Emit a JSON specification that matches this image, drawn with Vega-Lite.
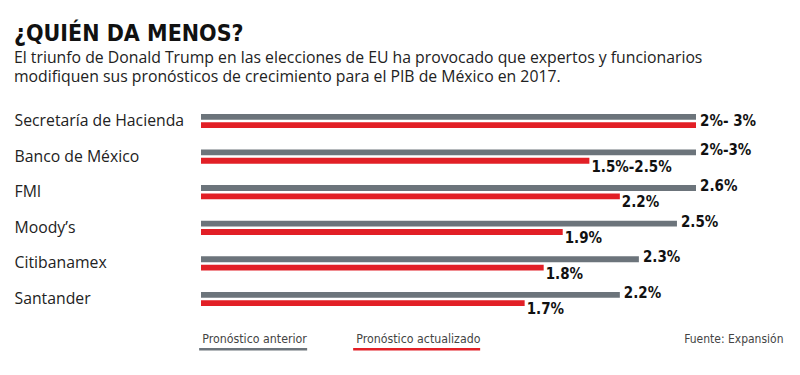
{
  "$schema": "https://vega.github.io/schema/vega-lite/v6.json",
  "autosize": "none",
  "width": 495,
  "height": 213.6,
  "padding": {"left": 201, "top": 103.2, "right": 104, "bottom": 58},
  "background": "white",
  "title": {
    "text": "¿QUIÉN DA MENOS?",
    "subtitle": ["El triunfo de Donald Trump en las elecciones de EU ha provocado que expertos y funcionarios", "modifiquen sus pronósticos de crecimiento para el PIB de México en 2017."],
    "anchor": "start",
    "frame": "group",
    "dx": -187,
    "offset": 18,
    "font": "DejaVu Sans Condensed",
    "fontSize": 23,
    "fontWeight": "bold",
    "color": "#111111",
    "subtitleFont": "Open Sans",
    "subtitleFontSize": 15.8,
    "subtitleColor": "#222222",
    "subtitleLineHeight": 19,
    "subtitlePadding": 5
  },
  "data": {
    "values": [
      {"entidad": "Secretaría de Hacienda", "serie": "Pronóstico anterior", "valor": 2.6, "etiqueta": "2%- 3%"},
      {"entidad": "Secretaría de Hacienda", "serie": "Pronóstico actualizado", "valor": 2.6, "etiqueta": "2%- 3%"},
      {"entidad": "Banco de México", "serie": "Pronóstico anterior", "valor": 2.6, "etiqueta": "2%-3%"},
      {"entidad": "Banco de México", "serie": "Pronóstico actualizado", "valor": 2.04, "etiqueta": "1.5%-2.5%"},
      {"entidad": "FMI", "serie": "Pronóstico anterior", "valor": 2.6, "etiqueta": "2.6%"},
      {"entidad": "FMI", "serie": "Pronóstico actualizado", "valor": 2.2, "etiqueta": "2.2%"},
      {"entidad": "Moody’s", "serie": "Pronóstico anterior", "valor": 2.5, "etiqueta": "2.5%"},
      {"entidad": "Moody’s", "serie": "Pronóstico actualizado", "valor": 1.9, "etiqueta": "1.9%"},
      {"entidad": "Citibanamex", "serie": "Pronóstico anterior", "valor": 2.3, "etiqueta": "2.3%"},
      {"entidad": "Citibanamex", "serie": "Pronóstico actualizado", "valor": 1.8, "etiqueta": "1.8%"},
      {"entidad": "Santander", "serie": "Pronóstico anterior", "valor": 2.2, "etiqueta": "2.2%"},
      {"entidad": "Santander", "serie": "Pronóstico actualizado", "valor": 1.7, "etiqueta": "1.7%"}
    ]
  },
  "encoding": {
    "y": {
      "field": "entidad",
      "type": "nominal",
      "sort": null,
      "scale": {"paddingInner": 0.6, "paddingOuter": 0.3},
      "axis": {
        "title": null,
        "domain": false,
        "ticks": false,
        "labelAlign": "left",
        "labelBaseline": "middle",
        "labelPadding": 187,
        "labelLimit": 300,
        "labelFont": "Open Sans",
        "labelFontSize": 15.8,
        "labelColor": "#222222"
      }
    },
    "x": {
      "field": "valor",
      "type": "quantitative",
      "scale": {"domain": [0, 2.6], "nice": false},
      "axis": {
        "labels": false,
        "ticks": false,
        "domain": false,
        "grid": false,
        "title": "Fuente: Expansión",
        "titleFont": "DejaVu Sans Condensed",
        "titleFontSize": 12,
        "titleFontWeight": "normal",
        "titleColor": "#444444",
        "titleAlign": "right",
        "titleBaseline": "alphabetic",
        "titleX": 582,
        "titleY": 25.5
      }
    }
  },
  "layer": [
    {
      "mark": {"type": "bar"},
      "encoding": {
        "yOffset": {
          "field": "serie",
          "sort": ["Pronóstico anterior", "Pronóstico actualizado"],
          "scale": {"paddingInner": 0.3, "paddingOuter": 0}
        },
        "color": {
          "field": "serie",
          "type": "nominal",
          "scale": {"domain": ["Pronóstico anterior", "Pronóstico actualizado"], "range": ["#6c747b", "#e21f26"]},
          "legend": {
            "title": null,
            "orient": "none",
            "direction": "horizontal",
            "legendX": -7,
            "legendY": 229.5,
            "padding": 0,
            "symbolSize": 4,
            "symbolOffset": 0,
            "symbolStrokeWidth": 0,
            "labelOffset": -4,
            "columnPadding": 40,
            "labelFont": "DejaVu Sans Condensed",
            "labelFontSize": 12.3,
            "labelColor": "#444444",
            "labelLimit": 300,
            "encode": {
              "symbols": {
                "update": {
                  "shape": {"signal": "datum.label === 'Pronóstico anterior' ? 'M-1,9H107V11.7H-1Z' : 'M-1,9H126V11.7H-1Z'"},
                  "opacity": {"value": 1}
                }
              }
            }
          }
        }
      }
    },
    {
      "transform": [{"filter": "datum.serie === 'Pronóstico anterior' && datum.entidad !== 'Secretaría de Hacienda'"}],
      "mark": {"type": "text", "align": "left", "baseline": "alphabetic", "dx": 4, "dy": 3, "font": "DejaVu Sans Condensed", "fontWeight": "bold", "fontSize": 15, "color": "#111111"},
      "encoding": {
        "yOffset": {"field": "serie", "sort": ["Pronóstico anterior", "Pronóstico actualizado"], "scale": {"paddingInner": 0.3, "paddingOuter": 0}},
        "text": {"field": "etiqueta"}
      }
    },
    {
      "transform": [{"filter": "datum.serie === 'Pronóstico actualizado' && datum.entidad !== 'Secretaría de Hacienda'"}],
      "mark": {"type": "text", "align": "left", "baseline": "alphabetic", "dx": 2, "dy": 11, "font": "DejaVu Sans Condensed", "fontWeight": "bold", "fontSize": 15, "color": "#111111"},
      "encoding": {
        "yOffset": {"field": "serie", "sort": ["Pronóstico anterior", "Pronóstico actualizado"], "scale": {"paddingInner": 0.3, "paddingOuter": 0}},
        "text": {"field": "etiqueta"}
      }
    },
    {
      "transform": [{"filter": "datum.serie === 'Pronóstico anterior' && datum.entidad === 'Secretaría de Hacienda'"}],
      "mark": {"type": "text", "align": "left", "baseline": "alphabetic", "dx": 4, "dy": 5, "font": "DejaVu Sans Condensed", "fontWeight": "bold", "fontSize": 15, "color": "#111111"},
      "encoding": {
        "text": {"field": "etiqueta"}
      }
    }
  ],
  "config": {
    "view": {"stroke": null}
  }
}
